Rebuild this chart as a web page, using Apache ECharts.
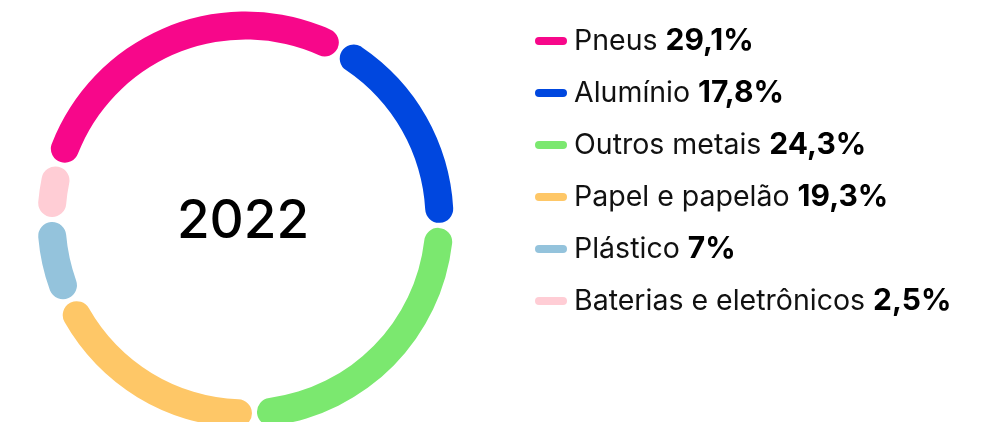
<!DOCTYPE html>
<html>
<head>
<meta charset="utf-8">
<script src="https://cdn.jsdelivr.net/npm/echarts@6/dist/echarts.min.js"></script>
<style>
  html, body { margin: 0; padding: 0; background: #fff; }
  #chart { width: 989px; height: 422px; }
</style>
</head>
<body>
<div id="chart"></div>
<script>
const year = '2022'
const categories = ['Pneus', 'Alumínio', 'Outros metais', 'Papel e papelão', 'Plástico', 'Baterias e eletrônicos']
const shares = [29.1, 17.8, 24.3, 19.3, 7, 2.5]
const shareLabels = ['29,1%', '17,8%', '24,3%', '19,3%', '7%', '2,5%']
const colors = ['#f7078a', '#0047df', '#7be86f', '#fec767', '#94c3dc', '#ffcdd5']

const chart = echarts.init(document.getElementById('chart'))

const option = {
  animation: false,
  title: {
    text: year,
    left: 238,
    top: 217,
    textAlign: 'center',
    textVerticalAlign: 'middle',
    textStyle: { fontFamily: 'Inter', fontSize: 53, fontWeight: 500, color: '#000' },
  },
  legend: {
    orient: 'vertical',
    left: 535,
    top: 24,
    padding: 0,
    itemGap: 18,
    itemWidth: 32,
    itemHeight: 8,
    selectedMode: false,
    icon: 'path://M4,0 L28,0 A4,4 0 0 1 28,8 L4,8 A4,4 0 0 1 4,0 Z',
    formatter: (name) => {
      const i = categories.indexOf(name)
      return `{n|${name}}{v|${shareLabels[i]}}`
    },
    textStyle: {
      lineHeight: 34,
      padding: [0, 0, 0, 2],
      rich: {
        n: { fontFamily: 'Inter', fontSize: 28.5, fontWeight: 400, color: '#111', lineHeight: 34 },
        v: { fontFamily: 'Inter', fontSize: 30, fontWeight: 700, color: '#000', lineHeight: 34, padding: [0, 0, 0, 8] },
      },
    },
    data: categories,
  },
  series: [
    {
      type: 'pie',
      center: [245.5, 219.5],
      radius: [180, 208],
      startAngle: 163.5,
      clockwise: true,
      padAngle: 1.5,
      minAngle: 15,
      avoidLabelOverlap: false,
      label: { show: false },
      labelLine: { show: false },
      emphasis: { disabled: true },
      itemStyle: { borderRadius: 14 },
      data: categories.map((name, i) => ({
        name,
        value: shares[i],
        itemStyle: { color: colors[i] },
      })),
    },
  ],
}

chart.setOption(option)
</script>
</body>
</html>
